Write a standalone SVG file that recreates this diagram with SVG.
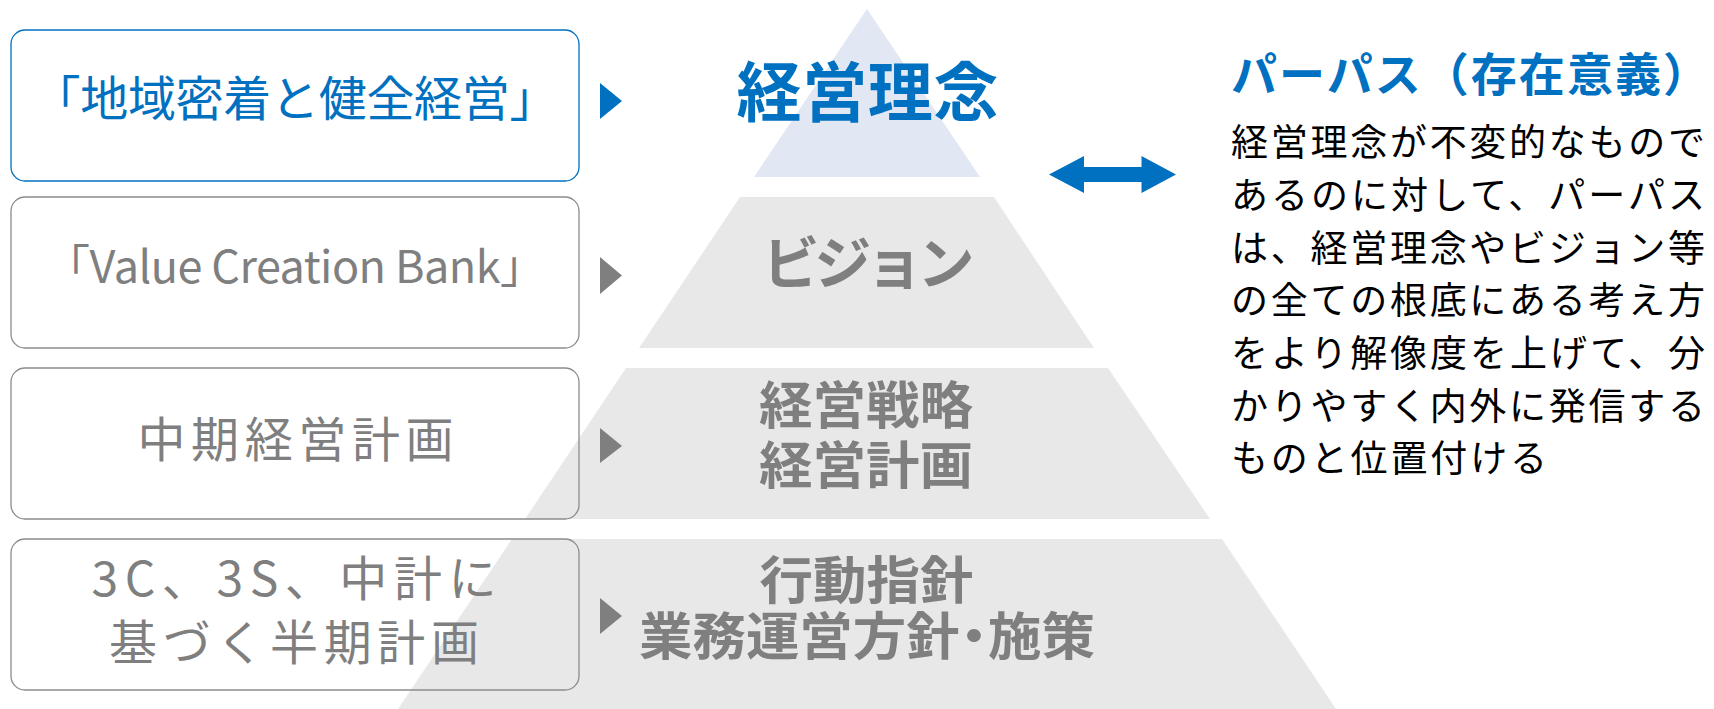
<svg xmlns="http://www.w3.org/2000/svg" width="1714" height="709" viewBox="0 0 1714 709">
<style>
text{font-family:"Noto Sans CJK JP","Noto Sans",sans-serif}
.box{fill:none;stroke:#8c8c8c;stroke-width:1.3}
.boxb{fill:none;stroke:#0070c0;stroke-width:1.3}
.lt{font-size:48px;fill:#7f7f7f;text-anchor:middle}
.ltb{font-size:48px;fill:#0070c0;text-anchor:middle}
.pt{font-size:51px;font-weight:700;fill:#7f7f7f;text-anchor:middle}
.tier{fill:#e8e8e8}
.body{font-size:37px;fill:#000}
.tri{fill:#7f7f7f}
.trib{fill:#0070c0}
</style>
<g id="pyramid">
<g id="tier-rinen"><polygon points="867,9 754,177 980,177" fill="#e1e8f3"/><text x="867.5" y="116" font-size="65" font-weight="700" fill="#0070c0" text-anchor="middle" textLength="262">経営理念</text></g>
<g id="tier-vision"><polygon class="tier" points="740,197 994,197 1094,348 639,348"/><text class="pt" x="868.5" y="284" style="font-size:57px" textLength="212">ビジョン</text></g>
<g id="tier-senryaku"><polygon class="tier" points="626,368 1108,368 1210,519 525,519"/><text class="pt" x="866" y="424" textLength="214" lengthAdjust="spacingAndGlyphs">経営戦略</text><text class="pt" x="866" y="484" textLength="214" lengthAdjust="spacingAndGlyphs">経営計画</text></g>
<g id="tier-kodo"><polygon class="tier" points="512,539 1222,539 1336,709 398,709"/><text class="pt" x="866.5" y="599" textLength="214" lengthAdjust="spacingAndGlyphs">行動指針</text><text class="pt" x="867" y="655" textLength="456" lengthAdjust="spacingAndGlyphs">業務運営方針<tspan dx="-12">・</tspan><tspan dx="-12">施策</tspan></text></g>
</g>
<g id="box-rinen"><rect class="boxb" x="11" y="30" width="568" height="151" rx="14"/><text class="ltb" x="295" y="116" textLength="525">「地域密着と健全経営」</text></g>
<g id="box-vcb"><rect class="box" x="11" y="197" width="568" height="151" rx="14"/><text class="lt" x="295" y="283" style="font-size:45px" textLength="500">「Value Creation Bank」</text></g>
<g id="box-chuki"><rect class="box" x="11" y="368" width="568" height="151" rx="14"/><text class="lt" x="295.5" y="457" textLength="316">中期経営計画</text></g>
<g id="box-hanki"><rect class="box" x="11" y="539" width="568" height="151" rx="14"/><text class="lt" x="294" y="596" textLength="405">3C、3S、中計に</text><text class="lt" x="294" y="660" textLength="370">基づく半期計画</text></g>
<g id="purpose">
<text x="1231" y="91" font-size="46" font-weight="700" fill="#0070c0" textLength="478">パーパス（存在意義）</text>
<text class="body" x="1231" y="156" textLength="474">経営理念が不変的なもので</text>
<text class="body" x="1231" y="209" textLength="474">あるのに対して、パーパス</text>
<text class="body" x="1231" y="261.5" textLength="474">は、経営理念やビジョン等</text>
<text class="body" x="1231" y="314" textLength="474">の全ての根底にある考え方</text>
<text class="body" x="1231" y="367" textLength="474">をより解像度を上げて、分</text>
<text class="body" x="1231" y="419.5" textLength="474">かりやすく内外に発信する</text>
<text class="body" x="1231" y="472" textLength="316">ものと位置付ける</text>
</g>
<g id="connectors">
<polygon class="trib" points="600,83 622,101 600,119"/>
<polygon class="tri" points="600,257 622,275.5 600,294"/>
<polygon class="tri" points="600,428 622,446 600,463"/>
<polygon class="tri" points="600,598 622,616 600,634"/>
<polygon class="trib" points="1049,174.5 1084,156 1084,167 1141.5,167 1141.5,156 1176,174.5 1141.5,193 1141.5,182 1084,182 1084,193"/>
</g>
</svg>
